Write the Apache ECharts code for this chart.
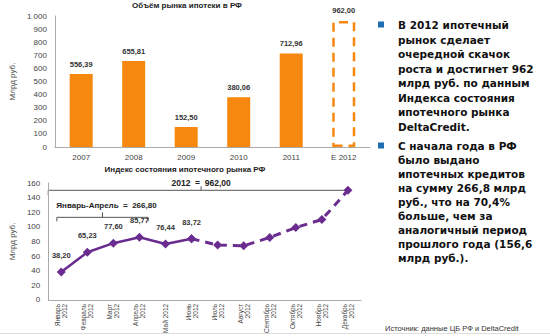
<!DOCTYPE html>
<html>
<head>
<meta charset="utf-8">
<script src="https://cdn.jsdelivr.net/npm/echarts@6/dist/echarts.min.js"></script>
<style>
html,body{margin:0;padding:0;background:#fff}
#c{width:550px;height:336px}
</style>
</head>
<body>
<div id="c"></div>
<script>
// Annual mortgage market volume, bn RUB (last one is the estimate)
const years = ['2007', '2008', '2009', '2010', '2011', 'E 2012'];
const volume = [556.39, 655.81, 152.50, 380.06, 712.96, 962.00];
const volumeTicks = [0, 100, 200, 300, 400, 500, 600, 700, 800, 900, 1000];

// Monthly mortgage market index for 2012, bn RUB
const months = ['Январь\n2012', 'Февраль\n2012', 'Март\n2012', 'Апрель\n2012', 'Май 2012', 'Июнь\n2012',
  'Июль\n2012', 'Август\n2012', 'Сентябрь\n2012', 'Октябрь\n2012', 'Ноябрь\n2012', 'Декабрь\n2012'];
const indexActual = [38.20, 65.23, 77.60, 85.77, 76.44, 83.72];
const indexForecast = [75, 74, 85.5, 99, 110, 150];
const yearTotal = 962.00;
const janAprTotal = 266.80;

const bulletOne = 'В 2012 ипотечный\nрынок сделает\nочередной скачок\nроста и достигнет 962\nмлрд руб. по данным\nИндекса состояния\nипотечного рынка\nDeltaCredit.';
const bulletTwo = 'С начала года в РФ\nбыло выдано\nипотечных кредитов\nна сумму 266,8 млрд\nруб., что на 70,4%\nбольше, чем за\nаналогичный период\nпрошлого года (156,6\nмлрд руб.).';
const sourceNote = 'Источник: данные ЦБ РФ и DeltaCredit';

const ORANGE = '#f7880f';
const PURPLE = '#6a2d8f';
const FONT = '"Liberation Sans", Arial, sans-serif';
const WIDE = '"DejaVu Sans", "Liberation Sans", sans-serif';
const comma = v => v.toFixed(2).replace('.', ',');

const chart = echarts.init(document.getElementById('c'), null, {renderer: 'svg'});

const last = years.length - 1;
const barData = volume.map((v, i) => i === last
  ? {value: v, itemStyle: {color: 'rgba(0,0,0,0)', borderColor: ORANGE, borderWidth: 2.5, borderType: [9, 6]}}
  : v);

const nActual = indexActual.length;
const solidData = months.map((m, i) => i < nActual ? indexActual[i] : null);
const dashedData = months.map((m, i) => i === nActual - 1 ? indexActual[i]
  : (i >= nActual ? indexForecast[i - nActual] : null));

const axisLabel = {color: '#444', fontSize: 8, fontFamily: FONT};
const axisLine = {show: true, lineStyle: {color: '#aaa', width: 1}};

chart.setOption({
  backgroundColor: '#fff',
  animation: false,
  textStyle: {fontFamily: FONT},
  title: [
    {text: 'Объём рынка ипотеки в РФ', left: 187, top: 1, padding: 0, textAlign: 'center',
      textStyle: {fontSize: 8, fontWeight: 'bold', color: '#222'}},
    {text: 'Индекс состояния ипотечного рынка РФ', left: 185, top: 165, padding: 0, textAlign: 'center',
      textStyle: {fontSize: 8, fontWeight: 'bold', color: '#222'}}
  ],
  grid: [
    {left: 37, top: 16, width: 333, height: 131},
    {left: 33, top: 183, width: 328, height: 119}
  ],
  xAxis: [
    {gridIndex: 0, type: 'category', data: years, axisTick: {show: false}, axisLine: axisLine,
      axisLabel: Object.assign({margin: 6}, axisLabel)},
    {gridIndex: 1, type: 'category', data: months, axisTick: {show: false}, axisLine: axisLine,
      axisLabel: {color: '#444', fontSize: 6.5, fontFamily: FONT, rotate: 90, margin: 4, lineHeight: 7, interval: 0, align: 'right'}}
  ],
  yAxis: [
    {gridIndex: 0, type: 'value', min: volumeTicks[0], max: volumeTicks[volumeTicks.length - 1], interval: 100,
      name: 'Млрд руб.', nameLocation: 'middle', nameGap: 24,
      nameTextStyle: {color: '#444', fontSize: 8},
      axisLine: axisLine, axisTick: {show: false}, splitLine: {show: false},
      axisLabel: Object.assign({formatter: v => v >= 1000 ? String(v).replace(/(\d)(\d{3})$/, '$1 $2') : String(v)}, axisLabel)},
    {gridIndex: 1, type: 'value', min: 0, max: 160, interval: 20,
      name: 'Млрд руб.', nameLocation: 'middle', nameGap: 21,
      nameTextStyle: {color: '#444', fontSize: 8},
      axisLine: axisLine, axisTick: {show: false}, splitLine: {show: false},
      axisLabel: axisLabel}
  ],
  series: [
    {type: 'bar', xAxisIndex: 0, yAxisIndex: 0, data: barData, barWidth: 23,
      itemStyle: {color: ORANGE},
      label: {show: true, position: 'top', distance: 6, fontSize: 7.5, fontWeight: 'bold', color: '#333',
        formatter: p => comma(p.value)}},
    {type: 'line', xAxisIndex: 1, yAxisIndex: 1, data: solidData,
      lineStyle: {color: PURPLE, width: 2.5}, itemStyle: {color: PURPLE},
      symbol: 'diamond', symbolSize: 9, showAllSymbol: true,
      label: {show: true, position: 'top', distance: 8, fontSize: 7.5, fontWeight: 'bold', color: '#333',
        formatter: p => comma(p.value)}},
    {type: 'line', xAxisIndex: 1, yAxisIndex: 1, data: dashedData,
      lineStyle: {color: PURPLE, width: 3, type: [8, 6]}, itemStyle: {color: PURPLE},
      symbol: 'diamond', symbolSize: 9, showAllSymbol: true, z: 1}
  ]
});

// Brackets over the monthly index, placed through the axes
const px = (i, v) => chart.convertToPixel({gridIndex: 1}, [i, v]);
const gridLeft = chart.convertToPixel({gridIndex: 1}, [0, 0]);
const step = px(1, 0)[0] - px(0, 0)[0];
const decPt = px(months.length - 1, indexForecast[indexForecast.length - 1]);
const yearY = decPt[1];
const axisX = gridLeft[0] - step / 2;
const ytdY = px(0, 113)[1];
const ytdL = px(0, 0)[0] - step * 0.17;
const ytdR = px(3, 0)[0] + step * 0.33;
const ytdC = (ytdL + ytdR) / 2;
const yearC = (axisX + decPt[0]) / 2 + 3;
const bracketStyle = {stroke: '#555', lineWidth: 1, fill: null};

const bulletX = 378, textX = 398;
chart.setOption({
  graphic: [
    {type: 'polyline', shape: {points: [[axisX, yearY + 5], [axisX, yearY], [decPt[0], yearY]]}, style: bracketStyle, silent: true},
    {type: 'line', shape: {x1: yearC, y1: yearY, x2: yearC, y2: yearY - 4}, style: bracketStyle, silent: true},
    {type: 'text', x: yearC, y: yearY - 3, style: {text: '2012  =  ' + comma(yearTotal), fontSize: 8.5, fontWeight: 'bold',
      fontFamily: FONT, fill: '#222', textAlign: 'center', textVerticalAlign: 'bottom'}},
    {type: 'polyline', shape: {points: [[ytdL, ytdY + 4], [ytdL, ytdY], [ytdR, ytdY], [ytdR, ytdY + 4]]}, style: bracketStyle, silent: true},
    {type: 'line', shape: {x1: ytdC, y1: ytdY, x2: ytdC, y2: ytdY - 5}, style: bracketStyle, silent: true},
    {type: 'text', x: ytdC + 4, y: ytdY - 8, style: {text: 'Январь-Апрель  =  ' + comma(janAprTotal), fontSize: 8, fontWeight: 'bold',
      fontFamily: FONT, fill: '#222', textAlign: 'center', textVerticalAlign: 'bottom'}},
    {type: 'rect', shape: {x: bulletX, y: 21.5, width: 6, height: 6}, style: {fill: '#1f6db3'}},
    {type: 'rect', shape: {x: bulletX, y: 142.5, width: 6, height: 6}, style: {fill: '#1f6db3'}},
    {type: 'text', x: textX, y: 18, style: {text: bulletOne, fontSize: 10.5, fontWeight: 'bold', fontFamily: WIDE,
      fill: '#111', lineHeight: 14.5, textVerticalAlign: 'top'}},
    {type: 'text', x: textX, y: 139, style: {text: bulletTwo, fontSize: 10.5, fontWeight: 'bold', fontFamily: WIDE,
      fill: '#111', lineHeight: 14, textVerticalAlign: 'top'}},
    {type: 'text', x: 385, y: 328, style: {text: sourceNote, fontSize: 7.5, fontFamily: FONT, fill: '#333',
      textVerticalAlign: 'middle'}},
    {type: 'line', shape: {x1: 0, y1: 333.5, x2: 550, y2: 333.5}, style: {stroke: '#ddd', lineWidth: 1}, silent: true}
  ]
});
</script>
</body>
</html>
